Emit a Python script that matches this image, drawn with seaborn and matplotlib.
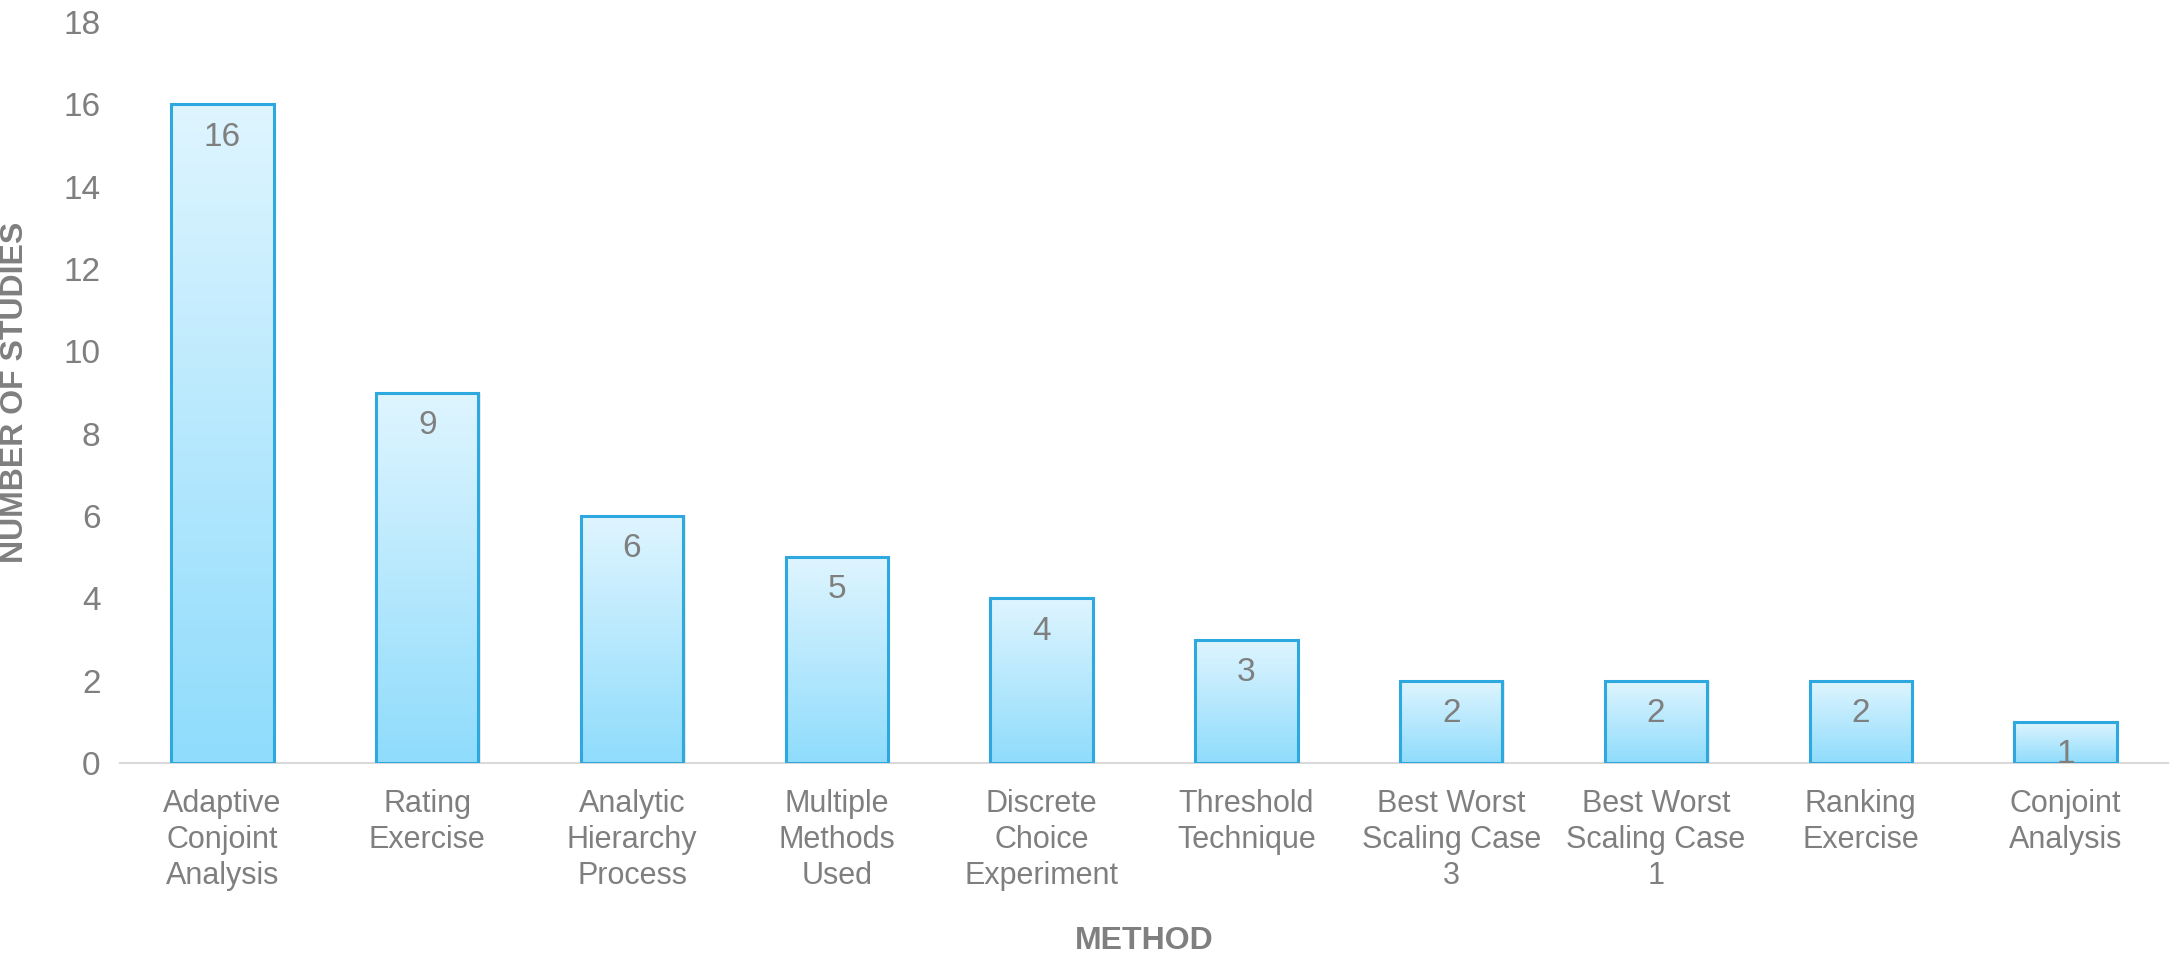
import numpy as np
import pandas as pd
import matplotlib
matplotlib.use("Agg")
import matplotlib.pyplot as plt
import seaborn as sns
from matplotlib.colors import LinearSegmentedColormap

categories = ["Adaptive\nConjoint\nAnalysis", "Rating\nExercise", "Analytic\nHierarchy\nProcess",
              "Multiple\nMethods\nUsed", "Discrete\nChoice\nExperiment", "Threshold\nTechnique",
              "Best Worst\nScaling Case\n3", "Best Worst\nScaling Case\n1", "Ranking\nExercise",
              "Conjoint\nAnalysis"]
values = [16, 9, 6, 5, 4, 3, 2, 2, 2, 1]
yticks = [0, 2, 4, 6, 8, 10, 12, 14, 16, 18]

sns.set_theme(style="white")
plt.rcParams['font.family'] = ['Liberation Sans', 'DejaVu Sans']
gray = "#7f7f7f"

df = pd.DataFrame({"method": categories, "count": values})
fig = plt.figure(figsize=(21.72, 9.55), dpi=100)
W, H = 2172, 955
ax = fig.add_axes([120/W, 1 - 763/H, (2168-120)/W, (763-22)/H])
sns.barplot(data=df, x="method", y="count", ax=ax, width=0.5, color="#bfeeff",
            edgecolor="#2ea9df", linewidth=2.2)

cmap = LinearSegmentedColormap.from_list("g", ["#8fdcfc", "#dff5ff"])
grad = np.linspace(0, 1, 256).reshape(-1, 1)
for p in list(ax.patches):
    x0, y0 = p.get_x(), p.get_y()
    w, h = p.get_width(), p.get_height()
    sh = plt.Rectangle((x0 + 0.012, y0), w, h, facecolor="#000000", alpha=0.08,
                       edgecolor="none", zorder=1.5)
    ax.add_patch(sh)
    im = ax.imshow(grad, extent=[x0, x0 + w, y0, y0 + h], origin="lower", cmap=cmap,
                   aspect="auto", zorder=2)
    im.set_clip_path(p)
    p.set_facecolor("none")
    p.set_zorder(3)

for i, v in enumerate(values):
    ax.text(i, v - 0.42, str(v), ha="center", va="top", fontsize=24, color=gray, zorder=4)

ax.set_xlim(-0.5, 9.5)
ax.set_ylim(0, 18)
ax.set_yticks(yticks)
ax.tick_params(axis="y", labelsize=24, colors=gray, length=0, pad=14)
ax.tick_params(axis="x", labelsize=22, colors=gray, length=0, pad=19)
for lab in ax.get_xticklabels():
    lab.set_linespacing(1.25)
for s in ["top", "right", "left"]:
    ax.spines[s].set_visible(False)
ax.spines["bottom"].set_color("#d9d9d9")
ax.spines["bottom"].set_linewidth(1.5)
ax.set_xlabel("METHOD", fontsize=23, fontweight="bold", color=gray)
ax.set_ylabel("NUMBER OF STUDIES", fontsize=23, fontweight="bold", color=gray)
ax.yaxis.set_label_coords((30 - 120) / 2048, 0.5)
ax.xaxis.set_label_coords(0.5, (763 - 926) / 741)

fig.savefig("out.png", dpi=100)
